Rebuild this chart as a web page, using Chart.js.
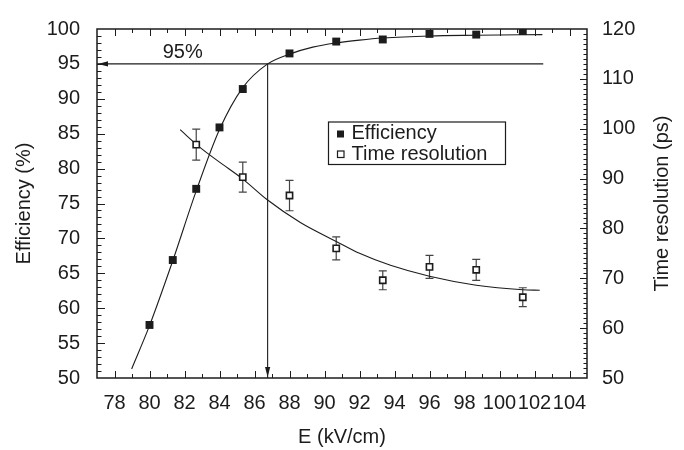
<!DOCTYPE html>
<html>
<head>
<meta charset="utf-8">
<script src="https://cdn.jsdelivr.net/npm/chart.js@4.4.1/dist/chart.umd.min.js"></script>
<style>
  html, body { margin: 0; padding: 0; background: #fff; }
</style>
</head>
<body>
<canvas id="eff_chart" width="684" height="450"></canvas>
<script>
const effChart = document.querySelector('#eff_chart')

// measured points
const fieldE = [80, 81.33, 82.67, 84, 85.33, 88, 90.67, 93.33, 96, 98.67, 101.33]
const efficiency = [57.6, 66.9, 77.1, 85.9, 91.4, 96.5, 98.2, 98.5, 99.3, 99.2, 99.7]
const timeE = [82.67, 85.33, 88, 90.67, 93.33, 96, 98.67, 101.33]
const timeRes = [96.8, 90.3, 86.6, 76.0, 69.6, 72.3, 71.7, 66.2]
const timeErr = [3.1, 3.0, 3.05, 2.3, 1.9, 2.3, 2.1, 1.9]

// fitted curves
const effFitE = [78.98, 80, 81.33, 82.67, 84, 85.33, 86.75, 88, 89.33, 90.67, 92, 93.33, 96, 98.67, 102.45]
const effFit = [51.3, 57.5, 66.8, 76.8, 85.6, 91.6, 95.0, 96.4, 97.4, 98.0, 98.4, 98.7, 99.0, 99.1, 99.2]
const timeFitE = [81.75, 82.9, 84, 85.37, 86.71, 88.62, 90.67, 92, 93.77, 96, 98.67, 101.33, 102.3]
const timeFit = [99.8, 96.2, 93.3, 89.8, 85.8, 81.2, 77.4, 75.0, 72.6, 70.4, 68.6, 67.7, 67.6]

// 95% working point
const cutLevel = 95
const cutField = 86.75
const cutLineEnd = 102.5
const cutLabel = '95%'

const xTicks = [78, 80, 82, 84, 86, 88, 90, 92, 94, 96, 98, 100, 102, 104]
const effTicks = [50, 55, 60, 65, 70, 75, 80, 85, 90, 95, 100]
const timeTicks = [50, 60, 70, 80, 90, 100, 110, 120]
const timeTitle = 'Time resolution (ps)'

const ink = '#1c1c1c'
const font = 'Liberation Sans, Arial, Helvetica, sans-serif'
const fontSize = 20

const pts = (xs, ys) => xs.map((x, i) => ({ x: x, y: ys[i] }))

const decorations = {
  id: 'decorations',
  beforeDatasetsDraw(chart) {
    const { ctx } = chart
    const x = chart.scales.x
    const y2 = chart.scales.y2
    ctx.save()
    ctx.strokeStyle = '#444'
    ctx.lineWidth = 1.2
    ctx.beginPath()
    timeE.forEach((e, i) => {
      const px = x.getPixelForValue(e)
      const top = y2.getPixelForValue(timeRes[i] + timeErr[i])
      const bot = y2.getPixelForValue(timeRes[i] - timeErr[i])
      ctx.moveTo(px, top); ctx.lineTo(px, bot)
      ctx.moveTo(px - 4, top); ctx.lineTo(px + 4, top)
      ctx.moveTo(px - 4, bot); ctx.lineTo(px + 4, bot)
    })
    ctx.stroke()
    ctx.restore()
  },
  afterDatasetsDraw(chart) {
    const { ctx, chartArea: a } = chart
    const x = chart.scales.x
    const y = chart.scales.y
    const y2 = chart.scales.y2
    ctx.save()
    ctx.strokeStyle = ink
    ctx.fillStyle = ink

    // frame
    ctx.lineWidth = 1.5
    ctx.strokeRect(a.left, a.top, a.right - a.left, a.bottom - a.top)

    // inward ticks
    ctx.lineWidth = 1
    ctx.beginPath()
    for (let v = 78; v <= 104; v++) {
      const px = Math.round(x.getPixelForValue(v)) + 0.5
      const len = v % 2 === 0 ? 7 : 4
      ctx.moveTo(px, a.bottom); ctx.lineTo(px, a.bottom - len)
      ctx.moveTo(px, a.top); ctx.lineTo(px, a.top + len)
    }
    for (let v = 51; v <= 99; v++) {
      const py = Math.round(y.getPixelForValue(v)) + 0.5
      const len = v % 5 === 0 ? 8 : 4.5
      ctx.moveTo(a.left, py); ctx.lineTo(a.left + len, py)
    }
    for (let v = 51; v <= 119; v++) {
      const py = Math.round(y2.getPixelForValue(v)) + 0.5
      const len = v % 10 === 0 ? 7 : 3.5
      ctx.moveTo(a.right, py); ctx.lineTo(a.right - len, py)
    }
    ctx.stroke()

    // arrow heads
    const hy = y.getPixelForValue(cutLevel)
    ctx.beginPath()
    ctx.moveTo(a.left + 1, hy)
    ctx.lineTo(a.left + 11, hy - 2.6)
    ctx.lineTo(a.left + 11, hy + 2.6)
    ctx.closePath()
    ctx.fill()
    const vx = x.getPixelForValue(cutField)
    ctx.beginPath()
    ctx.moveTo(vx, a.bottom - 1)
    ctx.lineTo(vx - 2.6, a.bottom - 11)
    ctx.lineTo(vx + 2.6, a.bottom - 11)
    ctx.closePath()
    ctx.fill()

    // 95% label
    ctx.font = '20px ' + font
    ctx.textAlign = 'center'
    ctx.textBaseline = 'middle'
    ctx.fillText(cutLabel, x.getPixelForValue(81.9), y.getPixelForValue(96.6))

    // right axis title, reading upwards
    ctx.save()
    ctx.translate(662, (a.top + a.bottom) / 2)
    ctx.rotate(-Math.PI / 2)
    ctx.font = fontSize + 'px ' + font
    ctx.fillText(timeTitle, 0, 0)
    ctx.restore()

    // legend box
    const lx = 328.5, ly = 122
    ctx.lineWidth = 1.2
    ctx.strokeRect(lx, ly, 177, 42.5)
    ctx.fillRect(lx + 8.5, ly + 8.5, 7, 7)
    ctx.fillStyle = '#fff'
    ctx.fillRect(lx + 9, ly + 29, 6.5, 6.5)
    ctx.strokeRect(lx + 9, ly + 29, 6.5, 6.5)
    ctx.fillStyle = ink
    ctx.font = fontSize + 'px ' + font
    ctx.textAlign = 'left'
    ctx.textBaseline = 'alphabetic'
    ctx.fillText(chart.data.datasets[0].label, lx + 23, ly + 17)
    ctx.fillText(chart.data.datasets[1].label, lx + 23, ly + 38)
    ctx.restore()
  }
}

new Chart(effChart, {
  type: 'scatter',
  plugins: [decorations],
  data: {
    datasets: [
      {
        label: 'Efficiency',
        data: pts(fieldE, efficiency),
        yAxisID: 'y',
        pointStyle: 'rect',
        pointRadius: 5.6,
        backgroundColor: ink,
        borderColor: ink,
        borderWidth: 0
      },
      {
        label: 'Time resolution',
        data: pts(timeE, timeRes),
        yAxisID: 'y2',
        pointStyle: 'rect',
        pointRadius: 4.4,
        backgroundColor: '#fff',
        borderColor: ink,
        borderWidth: 1.6
      },
      {
        label: 'efficiency fit',
        data: pts(effFitE, effFit),
        yAxisID: 'y',
        showLine: true,
        cubicInterpolationMode: 'monotone',
        pointRadius: 0,
        borderColor: ink,
        borderWidth: 1.1
      },
      {
        label: 'time fit',
        data: pts(timeFitE, timeFit),
        yAxisID: 'y2',
        showLine: true,
        cubicInterpolationMode: 'monotone',
        pointRadius: 0,
        borderColor: ink,
        borderWidth: 1.1
      },
      {
        label: 'cut level',
        data: [{ x: 77, y: cutLevel }, { x: cutLineEnd, y: cutLevel }],
        yAxisID: 'y',
        showLine: true,
        pointRadius: 0,
        borderColor: ink,
        borderWidth: 1.1
      },
      {
        label: 'cut field',
        data: [{ x: cutField, y: cutLevel }, { x: cutField, y: 50 }],
        yAxisID: 'y',
        showLine: true,
        pointRadius: 0,
        borderColor: ink,
        borderWidth: 1.1
      }
    ]
  },
  options: {
    responsive: false,
    animation: false,
    layout: { padding: { top: 20, left: 0, right: 0, bottom: 0 } },
    plugins: {
      legend: { display: false },
      tooltip: { enabled: false }
    },
    scales: {
      x: {
        type: 'linear',
        position: 'bottom',
        min: 77,
        max: 105,
        afterBuildTicks: s => { s.ticks = xTicks.map(v => ({ value: v })) },
        afterFit: s => { s.height = 72 },
        grid: { display: false, drawTicks: false },
        border: { display: false },
        ticks: {
          autoSkip: false,
          maxRotation: 0,
          padding: 13,
          color: ink,
          font: { family: font, size: fontSize }
        },
        title: {
          display: true,
          text: 'E (kV/cm)',
          color: ink,
          padding: { top: 0, bottom: 1 },
          font: { family: font, size: fontSize }
        }
      },
      y: {
        type: 'linear',
        position: 'left',
        min: 50,
        max: 100,
        afterBuildTicks: s => { s.ticks = effTicks.map(v => ({ value: v })) },
        afterFit: s => { s.width = 97 },
        grid: { display: false, drawTicks: false },
        border: { display: false },
        ticks: {
          padding: 17,
          color: ink,
          font: { family: font, size: fontSize }
        },
        title: {
          display: true,
          text: 'Efficiency (%)',
          color: ink,
          padding: { top: 12, bottom: 0 },
          font: { family: font, size: fontSize }
        }
      },
      y2: {
        type: 'linear',
        position: 'right',
        min: 50,
        max: 120,
        afterBuildTicks: s => { s.ticks = timeTicks.map(v => ({ value: v })) },
        afterFit: s => { s.width = 97 },
        grid: { display: false, drawTicks: false },
        border: { display: false },
        ticks: {
          padding: 15,
          color: ink,
          font: { family: font, size: fontSize }
        }
      }
    }
  }
})
</script>
</body>
</html>
